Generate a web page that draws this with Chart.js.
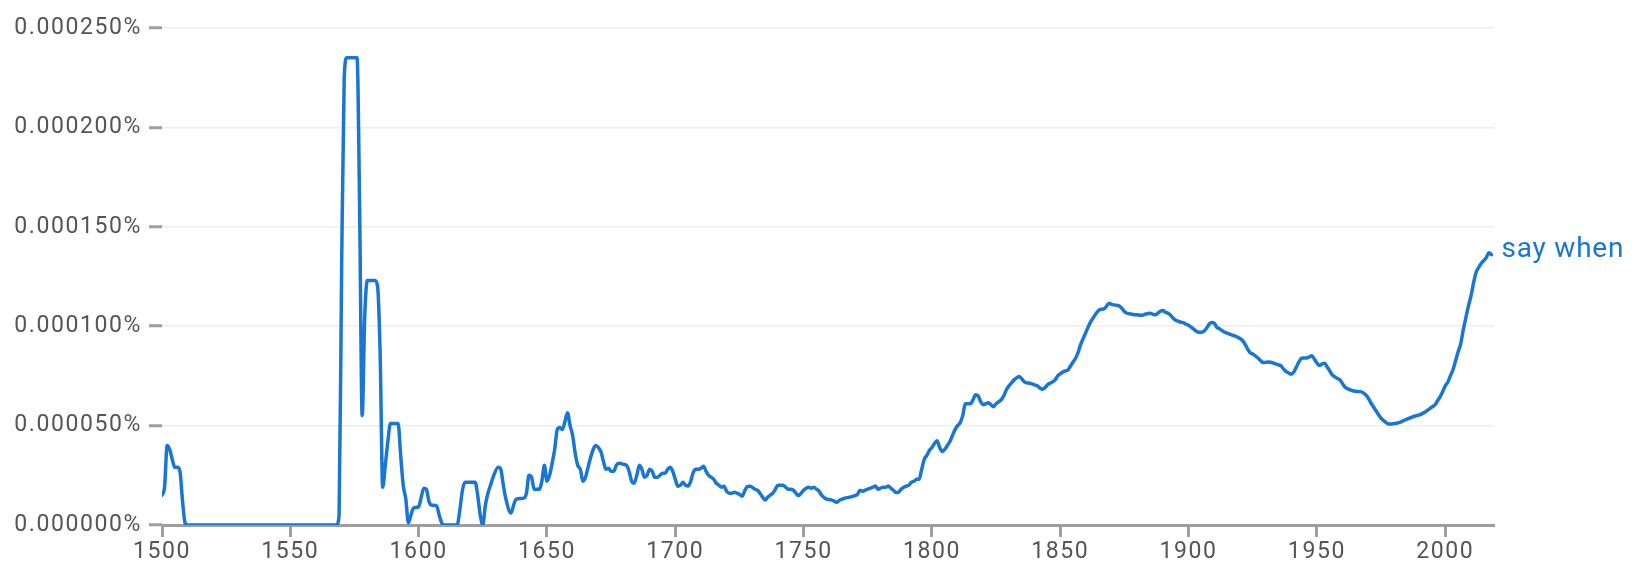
<!DOCTYPE html>
<html>
<head>
<meta charset="utf-8">
<script src="https://cdn.jsdelivr.net/npm/chart.js@4.4.1/dist/chart.umd.min.js"></script>
<style>
  html, body { margin: 0; padding: 0; background: #fff; }
  #ngram-chart { display: block; }
</style>
</head>
<body>
<canvas id="ngram-chart" width="1642" height="575"></canvas>
<script>
// frequency of "say when", in millionths of a percent
const years = [
  1500, 1501, 1502, 1503, 1504, 1505, 1506, 1507, 1508, 1509, 1510,
  1568, 1569, 1570, 1571, 1572, 1576, 1577, 1578, 1579, 1580, 1583, 1584, 1585, 1586, 1587, 1588, 1589,
  1592, 1593, 1594, 1595, 1596, 1597, 1598, 1600, 1601, 1602, 1603, 1604, 1605, 1607, 1608, 1609, 1610,
  1615, 1616, 1617, 1618, 1622, 1623, 1624, 1625, 1626, 1627, 1628, 1629, 1631, 1632, 1633, 1634, 1636,
  1637, 1638, 1641, 1642, 1643, 1644, 1645, 1647, 1648, 1649, 1650, 1651, 1652, 1653, 1654, 1655, 1656,
  1657, 1658, 1659, 1660, 1661, 1662, 1663, 1664, 1665, 1666, 1667, 1668, 1669, 1670, 1671, 1672, 1673,
  1674, 1675, 1676, 1677, 1678, 1680, 1681, 1682, 1683, 1684, 1685, 1686, 1687, 1688, 1689, 1690, 1691,
  1692, 1693, 1694, 1695, 1696, 1697, 1698, 1699, 1700, 1701, 1702, 1703, 1704, 1705, 1706, 1707, 1708,
  1709, 1710, 1711, 1712, 1713, 1714, 1715, 1716, 1717, 1718, 1719, 1720, 1721, 1722, 1723, 1724, 1725,
  1726, 1727, 1728, 1729, 1730, 1731, 1732, 1733, 1734, 1735, 1736, 1737, 1738, 1739, 1740, 1741, 1742,
  1743, 1744, 1745, 1746, 1747, 1748, 1749, 1750, 1751, 1752, 1753, 1754, 1755, 1756, 1757, 1758, 1759,
  1760, 1761, 1762, 1763, 1764, 1765, 1766, 1768, 1770, 1771, 1772, 1773, 1774, 1775, 1776, 1777, 1778,
  1779, 1780, 1781, 1782, 1783, 1784, 1785, 1786, 1787, 1788, 1789, 1790, 1791, 1792, 1793, 1794, 1795,
  1796, 1797, 1798, 1799, 1800, 1801, 1802, 1803, 1804, 1805, 1806, 1807, 1808, 1809, 1810, 1811, 1812,
  1813, 1814, 1815, 1816, 1817, 1818, 1819, 1820, 1821, 1822, 1823, 1824, 1825, 1826, 1827, 1828, 1829,
  1830, 1831, 1832, 1833, 1834, 1835, 1836, 1837, 1838, 1839, 1840, 1841, 1842, 1843, 1844, 1845, 1846,
  1847, 1848, 1849, 1850, 1851, 1852, 1853, 1854, 1855, 1856, 1857, 1858, 1859, 1860, 1861, 1862, 1863,
  1864, 1865, 1866, 1867, 1868, 1869, 1870, 1871, 1872, 1873, 1874, 1875, 1876, 1877, 1878, 1879, 1880,
  1881, 1882, 1883, 1884, 1885, 1886, 1887, 1888, 1889, 1890, 1891, 1892, 1893, 1894, 1895, 1896, 1897,
  1898, 1899, 1900, 1901, 1902, 1903, 1904, 1905, 1906, 1907, 1908, 1909, 1910, 1911, 1912, 1913, 1914,
  1915, 1916, 1917, 1918, 1919, 1920, 1921, 1922, 1923, 1924, 1925, 1926, 1927, 1928, 1929, 1930, 1931,
  1932, 1933, 1934, 1935, 1936, 1937, 1938, 1939, 1940, 1941, 1942, 1943, 1944, 1945, 1946, 1947, 1948,
  1949, 1950, 1951, 1952, 1953, 1954, 1955, 1956, 1957, 1958, 1959, 1960, 1961, 1962, 1963, 1964, 1965,
  1966, 1967, 1968, 1969, 1970, 1971, 1972, 1973, 1974, 1975, 1976, 1977, 1978, 1979, 1980, 1981, 1982,
  1983, 1984, 1985, 1986, 1987, 1988, 1989, 1990, 1991, 1992, 1993, 1994, 1995, 1996, 1997, 1998, 1999,
  2000, 2001, 2002, 2003, 2004, 2005, 2006, 2007, 2008, 2009, 2010, 2011, 2012, 2013, 2014, 2015, 2016,
  2017, 2018
];
const values = [
  15, 19, 40, 38, 33, 29, 29, 27, 12, 1, 0,
  0, 5, 130, 225, 235, 235, 160, 55, 105, 123, 123, 120, 86, 19, 30, 42, 51,
  51, 35, 20, 13, 1, 5, 8.5, 9.2, 14, 18.5, 18, 12, 10, 9.6, 5, 1, 0,
  0, 7, 17, 21.5, 21.5, 15, 5, 0, 10, 16, 20, 24, 29, 28, 20, 13, 6,
  10, 13, 13.5, 16, 25, 24, 18, 18, 22, 30, 22, 25, 31, 38, 48, 49, 48,
  52, 56.5, 50, 45, 36, 30, 28, 22, 24, 29, 34, 38, 40, 39, 37, 32, 28,
  28.5, 27, 27, 30, 31, 30.5, 30, 27, 22, 21, 25, 30, 28, 24, 25, 28, 27,
  24, 24, 25, 26, 26, 28, 29, 27, 23, 19.5, 20, 21.5, 20, 19.6, 22, 26.5, 28,
  28, 28.5, 29.5, 27, 25, 24, 23, 21, 20, 19, 19.5, 17, 16, 16, 16.5, 16, 15.5,
  14.5, 17, 19.3, 19.5, 19, 18, 17.5, 16, 14, 12.6, 14, 15, 16, 18, 20, 20, 20,
  19, 18, 18, 17.5, 16, 14.8, 16, 17.5, 18.5, 19, 18.5, 19, 18, 17, 15, 13.8, 13,
  12.8, 12.5, 12, 11.4, 12.5, 13, 13.5, 14, 14.8, 15.5, 17.5, 17, 17.5, 18, 18.5, 19, 19.6,
  18, 18.5, 19, 19, 19.6, 18.5, 17.5, 16.3, 16.5, 18, 19, 19.5, 20, 21.5, 22, 23, 23,
  28, 33, 35, 37.5, 39, 41, 42.4, 39, 37, 38, 40, 42, 45, 48, 50, 51.5, 55,
  61, 61, 61, 63, 65.5, 65, 62, 60.5, 61, 61.5, 60.5, 59.5, 61, 62, 63, 65, 68,
  70, 71.5, 73, 74, 74.7, 73.5, 72, 71.5, 71.3, 71, 70.5, 70, 69, 68.3, 69, 70.5, 71.3,
  72, 73, 75, 76, 77, 77.5, 78, 80, 82, 84, 87, 91, 94, 97, 100, 102.5, 104.5,
  106.5, 108, 108.5, 108.7, 110, 111.6, 111, 110.7, 110.5, 110.2, 109, 107.4, 106.5, 106.2, 106, 105.7, 105.7,
  105.5, 105.5, 106, 106.3, 106.5, 106, 105.7, 106.5, 107.5, 107.9, 107, 106.5, 105.5, 104, 103, 102.5, 102,
  101.8, 101, 100.5, 99.5, 98.5, 97.5, 97, 97, 97.5, 99, 101, 101.8, 101.5, 99.5, 98.7, 97.8, 97,
  96.5, 96, 95.5, 95.1, 94.5, 93.8, 92.8, 91, 88.5, 86.7, 86, 85.1, 84, 82.8, 81.7, 81.8, 82,
  81.9, 81.5, 81, 80.6, 80, 78.5, 77.2, 76.5, 75.8, 77, 79.5, 82, 83.9, 84, 84, 84.5, 85.1,
  83.5, 81.5, 80.2, 81, 81.4, 79.5, 77.5, 75.5, 74.5, 73.7, 73, 71, 69.3, 68.5, 68, 67.5, 67.3,
  67.2, 67.1, 66.5, 65.5, 63.8, 61.5, 59.5, 57.5, 55.5, 53.7, 52.5, 51.5, 50.8, 50.8, 51, 51.2, 51.5,
  52, 52.7, 53.2, 53.7, 54.2, 54.7, 55.1, 55.4, 56, 56.7, 57.6, 58.5, 59.5, 60.4, 62.5, 64.5, 67,
  70, 71.8, 75, 78, 82.5, 87, 91, 98, 104, 110, 115, 121.5, 127, 129.5, 131.5, 133, 134.5,
  137, 136
];
const seriesLabel = 'say when';
const yTickValues = [0, 50, 100, 150, 200, 250];
const xTickStep = 50;

const lineColor = '#1976d2';
const axisGray = '#9e9e9e';
const textGray = '#555555';

const points = years.map((yr, i) => ({ x: yr, y: values[i] }));

// draws the series name to the right of the last point
const endLabel = {
  id: 'endLabel',
  afterDatasetsDraw(chart) {
    const meta = chart.getDatasetMeta(0);
    const last = meta.data[meta.data.length - 1];
    const ctx = chart.ctx;
    ctx.save();
    ctx.letterSpacing = '0.8px';
    ctx.font = '28px Roboto';
    ctx.fillStyle = lineColor;
    ctx.textBaseline = 'middle';
    ctx.textAlign = 'left';
    ctx.fillText(seriesLabel, last.x + 10, last.y - 5);
    ctx.restore();
  }
};

const spacing = {
  id: 'spacing',
  beforeDraw(chart) {
    chart.ctx.letterSpacing = '1.6px';
  }
};

new Chart(document.getElementById('ngram-chart'), {
  type: 'line',
  data: {
    datasets: [{
      label: seriesLabel,
      data: points,
      borderColor: lineColor,
      borderWidth: 3.5,
      pointRadius: 0,
      cubicInterpolationMode: 'monotone',
      borderCapStyle: 'round',
      borderJoinStyle: 'round',
      fill: false,
    }],
  },
  options: {
    responsive: false,
    animation: false,
    events: [],
    layout: { padding: { top: 28, right: 148, left: 0, bottom: 0 } },
    plugins: { legend: { display: false }, tooltip: { enabled: false } },
    scales: {
      x: {
        type: 'linear',
        min: 1500,
        max: 2019,
        afterFit: s => { s.height = 50; },
        border: { color: axisGray, width: 3 },
        grid: { drawOnChartArea: false, tickLength: 12, tickWidth: 3, tickColor: axisGray },
        ticks: {
          stepSize: xTickStep,
          includeBounds: false,
          color: textGray,
          font: { family: 'Roboto', size: 23 },
          padding: 1,
          maxRotation: 0,
          callback: v => String(v),
        },
      },
      y: {
        min: 0,
        max: 250,
        afterFit: s => { s.width = 162; },
        afterBuildTicks: s => { s.ticks = yTickValues.map(v => ({ value: v })); },
        border: { display: false },
        grid: { color: '#eeeeee', lineWidth: 1.5, tickLength: 13, tickWidth: 3, tickColor: axisGray },
        ticks: {
          color: textGray,
          font: { family: 'Roboto', size: 23 },
          padding: 7,
          callback: v => (v / 1e6).toFixed(6) + '%',
        },
      },
    },
  },
  plugins: [spacing, endLabel],
});
</script>
</body>
</html>
